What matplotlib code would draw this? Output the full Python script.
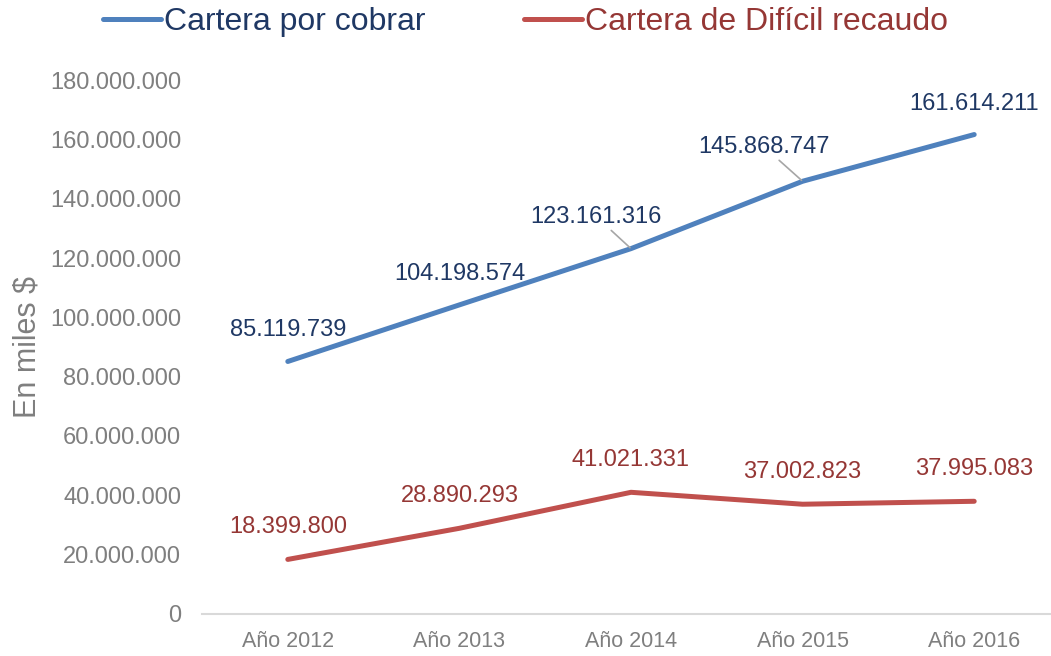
import matplotlib
matplotlib.use("Agg")
import matplotlib.pyplot as plt
from matplotlib.ticker import FuncFormatter, MultipleLocator

years = ["Año 2012", "Año 2013", "Año 2014", "Año 2015", "Año 2016"]
cartera_cobrar = [85119739, 104198574, 123161316, 145868747, 161614211]
cartera_dificil = [18399800, 28890293, 41021331, 37002823, 37995083]

BLUE = "#4F81BD"
RED = "#C0504D"
BLUE_TXT = "#1F3864"
RED_TXT = "#953735"
GRAY = "#7F7F7F"

plt.rcParams["font.family"] = ["Liberation Sans", "DejaVu Sans"]


def miles(v, _pos=None):
    return f"{v:,.0f}".replace(",", ".")


fig = plt.figure(figsize=(10.51, 6.56), dpi=100)
W, H = 1051, 656
ax = fig.add_axes([202 / W, 42 / H, 858 / W, 534 / H])
x = list(range(len(years)))

l1, = ax.plot(x, cartera_cobrar, color=BLUE, lw=3.6, solid_capstyle="round",
              label="Cartera por cobrar")
l2, = ax.plot(x, cartera_dificil, color=RED, lw=3.6, solid_capstyle="round",
              label="Cartera de Difícil recaudo")

ax.set_xlim(-0.5, 4.5)
ax.set_ylim(0, 180_000_000)
ax.yaxis.set_major_locator(MultipleLocator(20_000_000))
ax.yaxis.set_major_formatter(FuncFormatter(miles))
ax.set_xticks(x)
ax.set_xticklabels(years, fontsize=15.5)

for s in ("top", "right", "left"):
    ax.spines[s].set_visible(False)
ax.spines["bottom"].set_color("#D9D9D9")
ax.spines["bottom"].set_linewidth(1.5)
ax.tick_params(axis="both", length=0, colors=GRAY)
ax.tick_params(axis="y", labelsize=17, pad=15)
ax.tick_params(axis="x", pad=12)
ax.set_ylabel("En miles $", fontsize=22, color=GRAY, labelpad=5)

# Value labels; two of the blue ones sit off to the left with a leader line
blue_offsets = [(0, 23), (0, 22), (-25, 23), (-28, 25), (0, 22)]
for i, v in enumerate(cartera_cobrar):
    dx, dy = blue_offsets[i]
    kw = {}
    if dx != 0:
        kw["arrowprops"] = dict(arrowstyle="-", color="#A6A6A6", lw=1.2,
                                shrinkA=0, shrinkB=1)
    ax.annotate(miles(v), (i, v), xytext=(dx, dy), textcoords="offset points",
                ha="center", va="center", fontsize=17, color=BLUE_TXT, **kw)

for i, v in enumerate(cartera_dificil):
    ax.annotate(miles(v), (i, v), xytext=(0, 23), textcoords="offset points",
                ha="center", va="center", fontsize=17, color=RED_TXT)

leg = fig.legend(handles=[l1, l2], loc="center", bbox_to_anchor=(0.5, 1 - 22 / H),
                 ncol=2, frameon=False, fontsize=23, handlelength=1.8,
                 handletextpad=0.1, columnspacing=3.1)
for txt, c in zip(leg.get_texts(), [BLUE_TXT, RED_TXT]):
    txt.set_color(c)

fig.savefig("out.png", dpi=100)
